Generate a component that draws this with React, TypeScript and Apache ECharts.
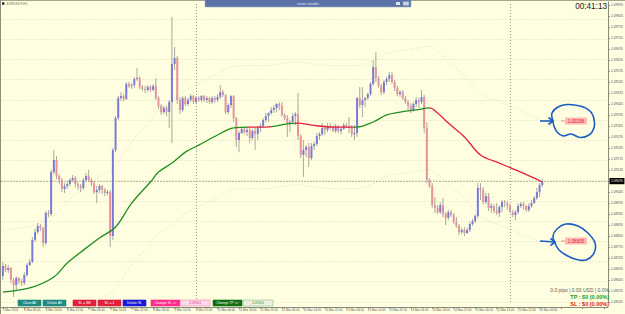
import React, { useEffect, useRef } from 'react';
import * as echarts from 'echarts';

const symbolTitle = 'EURUSD.F,H1';
const clockText = '00:41:13';

const xTickLabels = [
  '5 Mar 2024', '6 Mar 06:00', '6 Mar 14:00', '6 Mar 22:00', '7 Mar 06:00', '7 Mar 14:00',
  '7 Mar 22:00', '8 Mar 06:00', '8 Mar 14:00', '8 Mar 22:00', '11 Mar 06:00', '11 Mar 14:00',
  '11 Mar 22:00', '12 Mar 06:00', '12 Mar 14:00', '12 Mar 22:00', '13 Mar 06:00', '13 Mar 14:00',
  '13 Mar 22:00', '14 Mar 06:00', '14 Mar 14:00', '14 Mar 22:00', '15 Mar 06:00', '15 Mar 14:00',
  '15 Mar 22:00', '18 Mar 06:00',
];

const opens = [
  1.08638,1.08684,1.08666,1.08675,1.08620,1.08597,1.08629,1.08615,1.08606,1.08643,
  1.08688,1.08702,1.08802,1.08838,1.08866,1.08857,1.08788,1.08925,1.08920,1.09111,
  1.09166,1.09093,1.09075,1.09034,1.09048,1.09057,1.09075,1.09084,1.09057,1.09048,
  1.09039,1.09075,1.09093,1.09075,1.09061,1.09020,1.09030,1.09048,1.09030,1.09016,
  1.09020,1.08820,1.09212,1.09357,1.09448,1.09457,1.09444,1.09512,1.09503,1.09507,
  1.09535,1.09539,1.09498,1.09489,1.09485,1.09498,1.09485,1.09503,1.09448,1.09412,
  1.09384,1.09403,1.09384,1.09430,1.09603,1.09630,1.09439,1.09394,1.09448,1.09421,
  1.09439,1.09457,1.09430,1.09448,1.09439,1.09457,1.09439,1.09448,1.09430,1.09448,
  1.09439,1.09453,1.09475,1.09462,1.09384,1.09416,1.09457,1.09357,1.09257,1.09289,
  1.09307,1.09293,1.09303,1.09266,1.09298,1.09284,1.09312,1.09321,1.09348,1.09366,
  1.09380,1.09394,1.09403,1.09421,1.09412,1.09371,1.09357,1.09330,1.09339,1.09366,
  1.09375,1.09275,1.09189,1.09212,1.09225,1.09175,1.09230,1.09239,1.09275,1.09284,
  1.09312,1.09303,1.09321,1.09316,1.09298,1.09321,1.09298,1.09307,1.09325,1.09321,
  1.09312,1.09284,1.09289,1.09448,1.09416,1.09439,1.09448,1.09466,1.09512,1.09589,
  1.09539,1.09503,1.09475,1.09521,1.09535,1.09553,1.09521,1.09494,1.09466,1.09475,
  1.09448,1.09430,1.09412,1.09394,1.09421,1.09439,1.09430,1.09453,1.09312,1.09075,
  1.09048,1.08961,1.08948,1.08929,1.08961,1.08920,1.08902,1.08929,1.08916,1.08884,
  1.08866,1.08838,1.08848,1.08834,1.08848,1.08875,1.08888,1.08911,1.09039,1.09030,
  1.08975,1.09002,1.08948,1.08957,1.08934,1.08925,1.08952,1.08975,1.08970,1.08957,
  1.08929,1.08916,1.08929,1.08957,1.08966,1.08957,1.08939,1.08957,1.08970,1.08993,
  1.09020,1.09052,
];

const closes = [
  1.08684,1.08666,1.08675,1.08620,1.08597,1.08629,1.08615,1.08606,1.08643,1.08688,
  1.08702,1.08802,1.08838,1.08866,1.08857,1.08788,1.08925,1.08920,1.09111,1.09166,
  1.09093,1.09075,1.09034,1.09048,1.09057,1.09075,1.09084,1.09057,1.09048,1.09039,
  1.09075,1.09093,1.09075,1.09061,1.09020,1.09030,1.09048,1.09030,1.09016,1.09020,
  1.08820,1.09212,1.09357,1.09448,1.09457,1.09444,1.09512,1.09503,1.09507,1.09535,
  1.09539,1.09498,1.09489,1.09485,1.09498,1.09485,1.09503,1.09448,1.09412,1.09384,
  1.09403,1.09384,1.09430,1.09603,1.09630,1.09439,1.09394,1.09448,1.09421,1.09439,
  1.09457,1.09430,1.09448,1.09439,1.09457,1.09439,1.09448,1.09430,1.09448,1.09439,
  1.09453,1.09475,1.09462,1.09384,1.09416,1.09457,1.09357,1.09257,1.09289,1.09307,
  1.09293,1.09303,1.09266,1.09298,1.09284,1.09312,1.09321,1.09348,1.09366,1.09380,
  1.09394,1.09403,1.09421,1.09412,1.09371,1.09357,1.09330,1.09339,1.09366,1.09375,
  1.09275,1.09189,1.09212,1.09225,1.09175,1.09230,1.09239,1.09275,1.09284,1.09312,
  1.09303,1.09321,1.09316,1.09298,1.09321,1.09298,1.09307,1.09325,1.09321,1.09312,
  1.09284,1.09289,1.09448,1.09416,1.09439,1.09448,1.09466,1.09512,1.09589,1.09539,
  1.09503,1.09475,1.09521,1.09535,1.09553,1.09521,1.09494,1.09466,1.09475,1.09448,
  1.09430,1.09412,1.09394,1.09421,1.09439,1.09430,1.09453,1.09312,1.09075,1.09048,
  1.08961,1.08948,1.08929,1.08961,1.08920,1.08902,1.08929,1.08916,1.08884,1.08866,
  1.08838,1.08848,1.08834,1.08848,1.08875,1.08888,1.08911,1.09039,1.09030,1.08975,
  1.09002,1.08948,1.08957,1.08934,1.08925,1.08952,1.08975,1.08970,1.08957,1.08929,
  1.08916,1.08929,1.08957,1.08966,1.08957,1.08939,1.08957,1.08970,1.08993,1.09020,
  1.09052,1.09070,
];

const highs = [
  1.08702,1.08693,1.08688,1.08679,1.08629,1.08638,1.08634,1.08625,1.08656,1.08697,
  1.08716,1.08816,1.08852,1.08879,1.08875,1.08861,1.08934,1.08939,1.09121,1.09212,
  1.09184,1.09102,1.09084,1.09061,1.09070,1.09084,1.09098,1.09093,1.09066,1.09057,
  1.09084,1.09107,1.09121,1.09084,1.09070,1.09048,1.09057,1.09052,1.09039,1.09030,
  1.09030,1.09221,1.09366,1.09457,1.09475,1.09466,1.09521,1.09521,1.09516,1.09544,
  1.09585,1.09548,1.09507,1.09503,1.09507,1.09507,1.09512,1.09539,1.09457,1.09421,
  1.09412,1.09412,1.09439,1.09817,1.09680,1.09639,1.09453,1.09457,1.09457,1.09448,
  1.09466,1.09462,1.09457,1.09457,1.09462,1.09462,1.09457,1.09453,1.09457,1.09457,
  1.09466,1.09507,1.09485,1.09466,1.09425,1.09462,1.09462,1.09362,1.09298,1.09316,
  1.09316,1.09316,1.09312,1.09307,1.09312,1.09321,1.09334,1.09357,1.09380,1.09384,
  1.09407,1.09416,1.09425,1.09430,1.09430,1.09380,1.09371,1.09348,1.09380,1.09384,
  1.09471,1.09284,1.09257,1.09234,1.09243,1.09243,1.09248,1.09289,1.09293,1.09334,
  1.09325,1.09334,1.09334,1.09325,1.09330,1.09325,1.09316,1.09334,1.09334,1.09362,
  1.09325,1.09325,1.09453,1.09498,1.09498,1.09453,1.09471,1.09521,1.09621,1.09657,
  1.09548,1.09512,1.09530,1.09544,1.09566,1.09566,1.09530,1.09503,1.09485,1.09485,
  1.09457,1.09439,1.09425,1.09430,1.09453,1.09448,1.09485,1.09462,1.09339,1.09084,
  1.09061,1.08998,1.08961,1.08975,1.08993,1.08929,1.08939,1.08939,1.08925,1.08907,
  1.08875,1.08857,1.08861,1.08857,1.08884,1.08898,1.08920,1.09061,1.09061,1.09043,
  1.09016,1.09016,1.08970,1.08966,1.08970,1.08961,1.08984,1.08984,1.08979,1.08966,
  1.08939,1.08939,1.08970,1.08975,1.08975,1.08961,1.08970,1.08984,1.09002,1.09039,
  1.09061,1.09080,
];

const lows = [
  1.08620,1.08656,1.08652,1.08606,1.08543,1.08575,1.08602,1.08593,1.08597,1.08634,
  1.08684,1.08697,1.08793,1.08829,1.08843,1.08770,1.08779,1.08907,1.08911,1.09102,
  1.09080,1.09057,1.09020,1.09016,1.09034,1.09048,1.09066,1.09043,1.09030,1.09020,
  1.09030,1.09066,1.09066,1.09048,1.09011,1.08970,1.09016,1.09011,1.09002,1.09007,
  1.08770,1.08802,1.09202,1.09348,1.09434,1.09434,1.09439,1.09494,1.09489,1.09494,
  1.09525,1.09489,1.09480,1.09471,1.09475,1.09475,1.09480,1.09439,1.09398,1.09371,
  1.09375,1.09366,1.09312,1.09243,1.09576,1.09421,1.09375,1.09384,1.09412,1.09412,
  1.09430,1.09421,1.09421,1.09430,1.09430,1.09430,1.09425,1.09421,1.09421,1.09425,
  1.09430,1.09444,1.09453,1.09375,1.09375,1.09403,1.09339,1.09225,1.09202,1.09284,
  1.09284,1.09275,1.09243,1.09257,1.09212,1.09257,1.09293,1.09312,1.09339,1.09339,
  1.09371,1.09380,1.09384,1.09394,1.09362,1.09348,1.09271,1.09293,1.09334,1.09325,
  1.09257,1.09175,1.09089,1.09180,1.09134,1.09166,1.09212,1.09230,1.09257,1.09275,
  1.09280,1.09293,1.09303,1.09293,1.09289,1.09289,1.09284,1.09303,1.09312,1.09289,
  1.09271,1.09257,1.09271,1.09403,1.09362,1.09407,1.09439,1.09457,1.09503,1.09521,
  1.09494,1.09462,1.09466,1.09507,1.09521,1.09512,1.09480,1.09457,1.09453,1.09439,
  1.09421,1.09394,1.09380,1.09384,1.09407,1.09403,1.09421,1.09289,1.09061,1.09039,
  1.08948,1.08925,1.08920,1.08920,1.08907,1.08870,1.08893,1.08907,1.08875,1.08857,
  1.08825,1.08829,1.08820,1.08829,1.08838,1.08866,1.08879,1.08902,1.08984,1.08966,
  1.08966,1.08934,1.08925,1.08925,1.08916,1.08907,1.08929,1.08952,1.08939,1.08925,
  1.08907,1.08893,1.08920,1.08948,1.08939,1.08929,1.08929,1.08948,1.08966,1.08984,
  1.08998,1.09043,
];

const maBars = [0, 11, 19, 24, 30, 36, 42, 48, 55, 58, 63, 68, 73, 80, 86, 92, 98, 106, 110, 115,
  123, 132, 138, 143, 148, 154, 159, 162, 166, 172, 178, 185, 191, 197, 201];
const maValues = [1.08565, 1.08588, 1.08634, 1.08697, 1.08756, 1.08811, 1.08861, 1.08970, 1.09066, 1.09111,
  1.09152, 1.09202, 1.09234, 1.09280, 1.09312, 1.09316, 1.09316, 1.09330, 1.09334, 1.09325,
  1.09316, 1.09316, 1.09339, 1.09371, 1.09384, 1.09394, 1.09403, 1.09380, 1.09334, 1.09271,
  1.09189, 1.09152, 1.09121, 1.09089, 1.09066];
const envelopeDeviation = 0.0028;

const levelMarks = [1.09717, 1.09617, 1.09516, 1.09266, 1.09166, 1.08975, 1.08606];
const currentPrice = 1.0907;
const separatorBars = [72, 189];
const totalSlots = 226;

const yMin = 1.0852;
const yMax = 1.09885;
const yStep = 0.0005;

const font = 'Liberation Sans, Arial, sans-serif';
const bull = '#7a7ad8';
const bear = '#e6939e';
const wick = '#a8a89c';
const green = '#1e8e1e';
const red = '#e3203e';

const txt = (x: number, y: number, text: string, size: number, fill: string, align = 'left', weight = 'normal') => ({
  type: 'text', x, y, z: 100,
  style: { text, fontSize: size, fill, align, verticalAlign: 'middle', fontFamily: font, fontWeight: weight },
});

const buttons = [
  { label: 'Close All', x: 18, w: 23, fill: '#1f8b80', stroke: '#1f8b80', color: '#ffffff' },
  { label: 'Delete All', x: 43, w: 23, fill: '#1f8b80', stroke: '#1f8b80', color: '#ffffff' },
  { label: 'SL = BE', x: 73, w: 23, fill: '#e0203c', stroke: '#e0203c', color: '#ffffff' },
  { label: 'SL = 1', x: 98, w: 23, fill: '#e0203c', stroke: '#e0203c', color: '#ffffff' },
  { label: 'Delete SL', x: 123, w: 23, fill: '#1818d8', stroke: '#1818d8', color: '#ffffff' },
  { label: 'Change SL >>', x: 151, w: 29, fill: '#ff2a8c', stroke: '#ff2a8c', color: '#ffffff' },
  { label: '1.07001', x: 180, w: 30, fill: '#fbdbe8', stroke: '#f284b4', color: '#e0307e' },
  { label: 'Change TP >>', x: 213, w: 29, fill: '#0f6e12', stroke: '#0f6e12', color: '#ffffff' },
  { label: '1.07001', x: 243, w: 30, fill: '#eef0e2', stroke: '#86c086', color: '#2a8a2a' },
];

export default function App() {
  const ref = useRef<HTMLDivElement>(null);
  useEffect(() => {
    if (!ref.current) return;
    const chart = echarts.init(ref.current, null, { renderer: 'svg' });
    const categories = Array.from({ length: totalSlots }, (_, i) => String(i));
    const candleData = closes.map((c, i) => [i, opens[i], c, lows[i], highs[i]]);
    const maData = maBars.map((b, k) => [b, maValues[k]]);
    const upper = maBars.map((b, k) => [b, maValues[k] + envelopeDeviation]);
    const lower = maBars.map((b, k) => [b, maValues[k] - envelopeDeviation]);

    const loopStyle = { stroke: '#1a5ec6', lineWidth: 1.6, fill: 'none' };
    const graphics: any[] = [
      { type: 'line', z: 100, shape: { x1: 0, y1: 0.5, x2: 625, y2: 0.5 }, style: { stroke: '#a6a68e', lineWidth: 1 } },
      { type: 'line', z: 100, shape: { x1: 0.5, y1: 0, x2: 0.5, y2: 314 }, style: { stroke: '#8e8e78', lineWidth: 1 } },
      { type: 'rect', z: 100, shape: { x: 2, y: 2.3, width: 2.4, height: 2.4 }, style: { fill: '#222' } },
      txt(6.5, 3.6, symbolTitle, 3.2, '#6a6a6a'),
      { type: 'rect', z: 100, shape: { x: 205, y: -1, width: 206, height: 8 }, style: { fill: '#5a72a6', stroke: '#9aaccc', lineWidth: 0.6 } },
      txt(308, 3.5, 'news reader', 4, '#e2e8f3', 'center'),
      { type: 'rect', z: 101, shape: { x: 396, y: 2, width: 4, height: 3 }, style: { fill: '#dfe6f2' } },
      { type: 'rect', z: 101, shape: { x: 403, y: 1.5, width: 6, height: 4 }, style: { fill: '#c9d3e6', stroke: '#7d8fb6', lineWidth: 0.5 } },
      txt(607, 6, clockText, 8.2, '#222222', 'right'),
      { type: 'polyline', z: 100, shape: { smooth: 0.4, points: [[553, 121], [552, 113], [558, 107], [567, 104.5], [580, 106], [590, 111], [594, 119], [594, 128], [589, 135], [580, 137.5], [571, 134], [563, 136], [557, 132], [554, 126], [553, 121]] }, style: loopStyle },
      { type: 'polyline', z: 100, shape: { points: [[540, 121], [553, 121]] }, style: loopStyle },
      { type: 'polyline', z: 100, shape: { points: [[548.5, 117.5], [553, 121], [548.5, 124.5]] }, style: loopStyle },
      { type: 'line', z: 100, shape: { x1: 561, y1: 121, x2: 565, y2: 121 }, style: { stroke: '#f07070', lineWidth: 0.8 } },
      { type: 'rect', z: 100, shape: { x: 565, y: 117.5, width: 22, height: 7 }, style: { fill: '#ffb9b9' } },
      txt(576, 121, '1.09296', 4.6, '#e42828', 'center'),
      { type: 'polyline', z: 100, shape: { smooth: 0.4, points: [[555, 243], [553, 236], [557, 229], [566, 224], [578, 226], [588, 233], [595, 243], [594, 253], [586, 260], [575, 259], [566, 255], [559, 250], [555, 243]] }, style: loopStyle },
      { type: 'polyline', z: 100, shape: { points: [[540, 241], [555, 242]] }, style: loopStyle },
      { type: 'polyline', z: 100, shape: { points: [[550.5, 238.5], [555, 242], [550.5, 245.5]] }, style: loopStyle },
      { type: 'line', z: 100, shape: { x1: 561, y1: 241, x2: 565, y2: 241 }, style: { stroke: '#f07070', lineWidth: 0.8 } },
      { type: 'rect', z: 100, shape: { x: 565, y: 237.5, width: 22, height: 7 }, style: { fill: '#ffb9b9' } },
      txt(576, 241, '1.08805', 4.6, '#e42828', 'center'),
      txt(609, 290, '0.0 pips | 0.00 USD | 0.0%', 5, '#5a5a5a', 'right'),
      txt(609, 297, 'TP : $0 (0.00%)', 5.5, '#1a9a1a', 'right', 'bold'),
      txt(609, 304.3, 'SL : $0 (0.00%)', 5.5, '#e41414', 'right', 'bold'),
    ];
    buttons.forEach((b) => {
      graphics.push({ type: 'rect', z: 100, shape: { x: b.x, y: 300, width: b.w, height: 6 }, style: { fill: b.fill, stroke: b.stroke, lineWidth: 0.6 } });
      graphics.push(txt(b.x + b.w / 2, 303, b.label, 3.4, b.color, 'center'));
    });

    const option: any = {
      animation: false,
      backgroundColor: '#FFFEE0',
      textStyle: { fontFamily: font },
      grid: [
        { left: 1.5, right: 17, top: 2, height: 300, outerBoundsMode: 'none' },
        { left: 1.5, right: 17, top: -1.2, height: 303, outerBoundsMode: 'none' },
      ],
      xAxis: [
        {
          type: 'category', data: categories, boundaryGap: true, gridIndex: 0, offset: 5,
          axisLine: { show: true, lineStyle: { color: '#8a8a78', width: 1 } },
          axisTick: { show: true, interval: 7, alignWithLabel: true, length: 2, lineStyle: { color: '#8a8a78' } },
          axisLabel: {
            interval: 7, fontSize: 3, color: '#555555', align: 'left', margin: 1.5, fontFamily: font,
            formatter: (_v: string, idx: number) => (idx % 8 === 0 ? xTickLabels[idx / 8] ?? '' : ''),
          },
          splitLine: { show: false },
        },
        { type: 'value', gridIndex: 1, show: false, min: 0, max: 1 },
      ],
      yAxis: [
        {
          type: 'value', position: 'right', gridIndex: 0, min: yMin, max: yMax, interval: yStep, scale: true,
          axisLine: { show: true, lineStyle: { color: '#8a8a78', width: 1 } },
          axisTick: { show: true, length: 2, lineStyle: { color: '#8a8a78' } },
          axisLabel: {
            fontSize: 3.3, color: '#555555', margin: 3, showMaxLabel: false, fontFamily: font,
            formatter: (v: number) => v.toFixed(5),
          },
          splitLine: { show: false },
        },
        {
          type: 'value', gridIndex: 1, min: 0, max: 15, interval: 1,
          axisLine: { show: false }, axisTick: { show: false }, axisLabel: { show: false },
          splitLine: { show: true, lineStyle: { color: '#e0ddbb', type: [1, 2], width: 1 } },
        },
      ],
      visualMap: {
        type: 'piecewise', show: false, dimension: 0, seriesIndex: 1,
        pieces: [
          { lte: 91, color: green },
          { gt: 91, lte: 100, color: red },
          { gt: 100, lte: 109, color: green },
          { gt: 109, lte: 131, color: red },
          { gt: 131, lte: 159, color: green },
          { gt: 159, color: red },
        ],
      },
      series: [
        {
          type: 'custom', name: 'EURUSD', xAxisIndex: 0, yAxisIndex: 0, z: 3,
          data: candleData,
          encode: { x: 0, y: [1, 2, 3, 4] },
          renderItem: (_params: any, api: any) => {
            const i = api.value(0);
            const o = api.value(1);
            const c = api.value(2);
            const l = api.value(3);
            const h = api.value(4);
            const pO = api.coord([i, o]);
            const pC = api.coord([i, c]);
            const pL = api.coord([i, l]);
            const pH = api.coord([i, h]);
            const bw = api.size([1, 0])[0] * 0.74;
            const x = pO[0];
            const top = Math.min(pO[1], pC[1]);
            const hgt = Math.max(1, Math.abs(pO[1] - pC[1]));
            return {
              type: 'group',
              children: [
                { type: 'line', shape: { x1: x, y1: pH[1], x2: x, y2: pL[1] }, style: { stroke: wick, lineWidth: 1 } },
                { type: 'rect', shape: { x: x - bw / 2, y: top, width: bw, height: hgt }, style: { fill: c >= o ? bull : bear } },
              ],
            };
          },
        },
        {
          type: 'line', name: 'MA', xAxisIndex: 0, yAxisIndex: 0, z: 4,
          data: maData, smooth: 0.35, showSymbol: false, symbol: 'none',
          lineStyle: { width: 1.3 },
        },
        {
          type: 'line', name: 'Envelope upper', xAxisIndex: 0, yAxisIndex: 0, z: 1,
          data: upper, smooth: 0.35, showSymbol: false, symbol: 'none',
          lineStyle: { width: 1, color: '#dcdac4', type: [1, 2] },
          markLine: {
            silent: true, symbol: ['none', 'none'], z: 5, precision: 5,
            data: [
              ...separatorBars.map((b) => ({
                xAxis: String(b), label: { show: false },
                lineStyle: { color: '#9c9c8c', type: [1, 2], width: 1 },
              })),
              {
                yAxis: currentPrice,
                lineStyle: { color: '#7d7d70', type: [1, 2], width: 1 },
                label: {
                  show: true, position: 'end', distance: 1.5, formatter: currentPrice.toFixed(5),
                  backgroundColor: '#000000', color: '#ffffff', fontSize: 3.3, padding: [1.6, 1.5], fontFamily: font,
                },
              },
              ...levelMarks.map((v) => ({
                yAxis: v,
                lineStyle: { opacity: 0 },
                label: {
                  show: true, position: 'end', distance: 1.5, formatter: v.toFixed(5),
                  backgroundColor: '#c6c6c6', color: '#f2f2f2', fontSize: 3.3, padding: [1.6, 1.5], fontFamily: font,
                },
              })),
            ],
          },
        },
        {
          type: 'line', name: 'Envelope lower', xAxisIndex: 0, yAxisIndex: 0, z: 1,
          data: lower, smooth: 0.35, showSymbol: false, symbol: 'none',
          lineStyle: { width: 1, color: '#dcdac4', type: [1, 2] },
        },
      ],
      graphic: { elements: graphics },
    };
    chart.setOption(option);
    return () => chart.dispose();
  }, []);
  return <div ref={ref} style={{ position: 'fixed', left: 0, top: 0, width: 625, height: 314 }} />;
}
